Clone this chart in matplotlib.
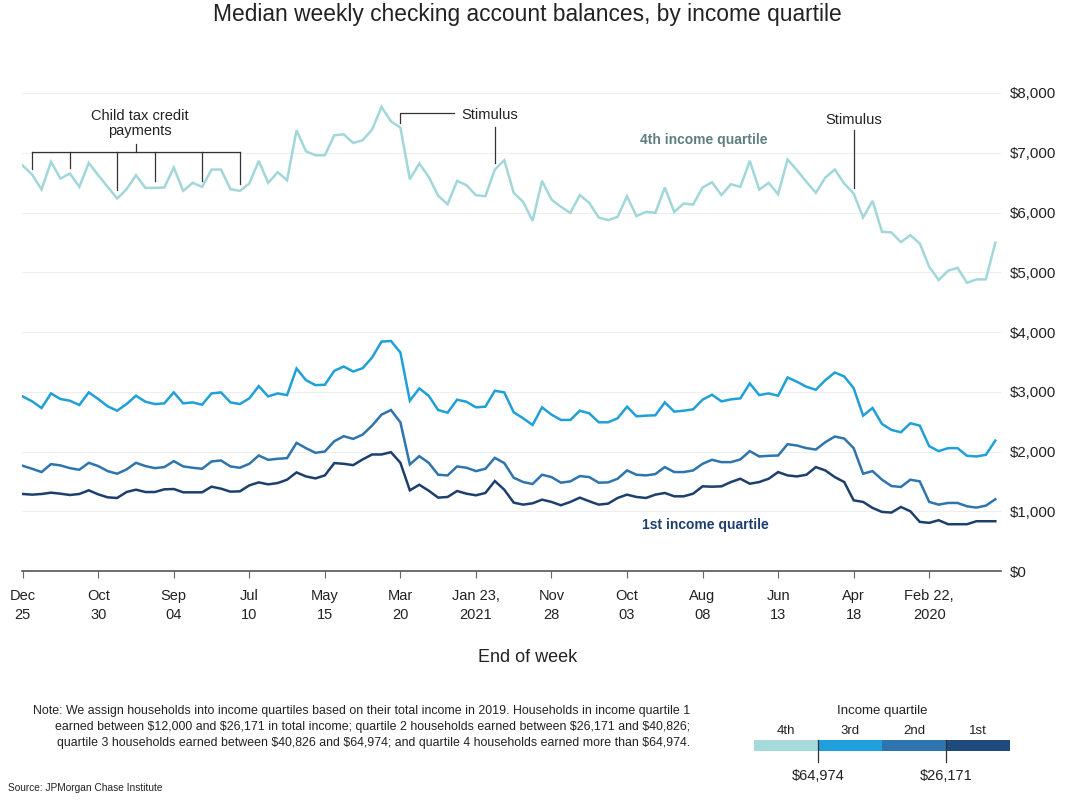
import numpy as np
import pandas as pd
import matplotlib
matplotlib.use("Agg")
import matplotlib.pyplot as plt

plt.rcParams['font.family'] = ['Liberation Sans', 'DejaVu Sans']

# week-ending dates, Saturdays, 104 weeks
weeks = pd.date_range('2020-01-04', periods=104, freq='7D')

q4_newest_first = [6786, 6635, 6384, 6847, 6568, 6652, 6429, 6830, 6624, 6429,
                   6234, 6390, 6624, 6412, 6412, 6418, 6752, 6362, 6496, 6429,
                   6719, 6719, 6390, 6362, 6485, 6864, 6496, 6674, 6540, 7376,
                   7025, 6958, 6958, 7292, 7309, 7164, 7209, 7387, 7766, 7526,
                   7421, 6557, 6819, 6596, 6279, 6139, 6529, 6457, 6290, 6273,
                   6719, 6875, 6329, 6178, 5861, 6529, 6217, 6095, 5994, 6290,
                   6162, 5916, 5872, 5927, 6273, 5939, 6011, 5994, 6418, 6011,
                   6150, 6134, 6418, 6507, 6290, 6474, 6429, 6864, 6384, 6496,
                   6306, 6886, 6708, 6513, 6329, 6585, 6719, 6485, 6318, 5916,
                   6195, 5677, 5666, 5504, 5621, 5482, 5092, 4869, 5025, 5075,
                   4824, 4880, 4880, 5493]
q3_newest_first = [2922, 2839, 2728, 2972, 2878, 2850, 2778, 2989, 2878, 2756,
                   2683, 2794, 2933, 2833, 2794, 2806, 2989, 2806, 2822, 2783,
                   2972, 2989, 2822, 2794, 2889, 3094, 2922, 2972, 2944, 3389,
                   3194, 3111, 3117, 3350, 3422, 3339, 3394, 3572, 3839, 3850,
                   3656, 2850, 3056, 2933, 2694, 2650, 2867, 2833, 2739, 2750,
                   3017, 2989, 2656, 2556, 2444, 2739, 2617, 2528, 2528, 2683,
                   2639, 2489, 2489, 2556, 2750, 2589, 2600, 2606, 2822, 2667,
                   2683, 2706, 2867, 2950, 2839, 2872, 2889, 3139, 2944, 2972,
                   2933, 3239, 3167, 3083, 3033, 3194, 3322, 3256, 3061, 2600,
                   2728, 2461, 2361, 2322, 2472, 2433, 2089, 2006, 2056, 2056,
                   1928, 1917, 1944, 2183]
q2_newest_first = [1761, 1711, 1656, 1789, 1767, 1722, 1694, 1811, 1756, 1672,
                   1628, 1700, 1811, 1756, 1722, 1739, 1839, 1750, 1728, 1711,
                   1833, 1850, 1750, 1728, 1794, 1933, 1861, 1878, 1889, 2144,
                   2056, 1978, 2000, 2172, 2256, 2211, 2283, 2433, 2617, 2694,
                   2489, 1783, 1922, 1811, 1611, 1600, 1750, 1728, 1672, 1711,
                   1894, 1806, 1561, 1489, 1456, 1611, 1572, 1478, 1500, 1589,
                   1572, 1478, 1483, 1544, 1683, 1611, 1600, 1622, 1739, 1656,
                   1656, 1683, 1794, 1861, 1822, 1822, 1867, 2006, 1917, 1928,
                   1933, 2122, 2100, 2056, 2033, 2156, 2250, 2217, 2056, 1628,
                   1672, 1528, 1422, 1406, 1528, 1500, 1156, 1111, 1139, 1139,
                   1083, 1061, 1094, 1200]
q1_newest_first = [1289, 1278, 1289, 1311, 1294, 1272, 1289, 1350, 1283, 1233,
                   1222, 1322, 1361, 1322, 1322, 1367, 1372, 1317, 1317, 1317,
                   1411, 1378, 1328, 1333, 1433, 1483, 1450, 1472, 1528, 1650,
                   1583, 1550, 1600, 1806, 1794, 1772, 1867, 1950, 1950, 1989,
                   1811, 1350, 1444, 1344, 1228, 1239, 1339, 1294, 1267, 1306,
                   1506, 1361, 1144, 1111, 1133, 1194, 1156, 1100, 1156, 1228,
                   1167, 1111, 1128, 1222, 1278, 1239, 1222, 1278, 1306, 1250,
                   1250, 1294, 1417, 1411, 1417, 1489, 1544, 1461, 1489, 1544,
                   1656, 1600, 1583, 1611, 1739, 1683, 1572, 1489, 1183, 1156,
                   1056, 989, 978, 1072, 1000, 822, 806, 850, 783, 783,
                   783, 833, 833, 833]

q4 = np.array(q4_newest_first)[::-1]
q3 = np.array(q3_newest_first)[::-1]
q2 = np.array(q2_newest_first)[::-1]
q1 = np.array(q1_newest_first)[::-1]

series = [q4, q3, q2, q1]
colors = ['#a2d7d9', '#20a0d8', '#2e74ad', '#1c3f6e']

tick_dates = pd.date_range('2020-02-22', periods=13, freq='56D')
tick_labels = ['Feb 22,\n2020', 'Apr\n18', 'Jun\n13', 'Aug\n08', 'Oct\n03', 'Nov\n28',
               'Jan 23,\n2021', 'Mar\n20', 'May\n15', 'Jul\n10', 'Sep\n04', 'Oct\n30', 'Dec\n25']
y_ticks = [0, 1000, 2000, 3000, 4000, 5000, 6000, 7000, 8000]
y_labels = ['$0', '$1,000', '$2,000', '$3,000', '$4,000', '$5,000', '$6,000', '$7,000', '$8,000']

ctc_dates = pd.to_datetime(['2021-12-18', '2021-11-20', '2021-10-16', '2021-09-18', '2021-08-14', '2021-07-17'])
ctc_bottoms = [6728, 6745, 6377, 6527, 6527, 6477]

legend_labels = ['4th', '3rd', '2nd', '1st']
legend_colors = ['#a6d9da', '#1f9fdb', '#2e75b0', '#1f4a7c']
cutoffs = ['$64,974', '$26,171']

W, H = 1070, 800
fig = plt.figure(figsize=(W / 100, H / 100), dpi=100)
ax = fig.add_axes([22 / W, 1 - 571 / H, (1000.7 - 22) / W, (571 - 93) / H])

for s, c in zip(series, colors):
    ax.plot(weeks, s, color=c, lw=1.8, solid_joinstyle='miter')

ax.set_xlim(pd.Timestamp('2021-12-25') + pd.Timedelta(days=0.5), pd.Timestamp('2019-12-31'))
ax.set_ylim(0, 8000)
ax.set_yticks(y_ticks)
ax.set_yticklabels(y_labels)
ax.yaxis.tick_right()
ax.tick_params(axis='y', length=0, pad=6.5, labelsize=10.8, labelcolor='#222222')
ax.set_xticks(tick_dates)
ax.set_xticklabels(tick_labels, linespacing=1.45)
ax.tick_params(axis='x', length=5, color='#666666', pad=8, labelsize=10.5, labelcolor='#222222')
ax.grid(axis='y', color='#eeeeee', lw=0.8)
ax.set_axisbelow(True)
for sp in ['top', 'left', 'right']:
    ax.spines[sp].set_visible(False)
ax.spines['bottom'].set_color('#555555')
ax.spines['bottom'].set_linewidth(1.2)

ann = dict(color='#333333', lw=0.9, clip_on=False)

# child tax credit bracket
ax.plot([ctc_dates[-1], ctc_dates[0]], [7010, 7010], **ann)
for d, b in zip(ctc_dates, ctc_bottoms):
    ax.plot([d, d], [7010, b], **ann)
mid = pd.Timestamp('2021-10-02')
ax.plot([mid, mid], [7010, 7146], **ann)
ax.text(pd.Timestamp('2021-09-29'), 7490, 'Child tax credit\npayments', ha='center', va='center',
        fontsize=10.5, color='#222222', linespacing=1.15)

# stimulus 2021
s1, s1b = pd.Timestamp('2021-03-20'), pd.Timestamp('2021-02-08')
ax.plot([s1, s1, s1b], [7503, 7665, 7665], **ann)
s2 = pd.Timestamp('2021-01-09')
ax.plot([s2, s2], [7436, 6828], **ann)
ax.text(pd.Timestamp('2021-01-13'), 7640, 'Stimulus', ha='center', va='center', fontsize=10.5, color='#222222')

# stimulus 2020
s3 = pd.Timestamp('2020-04-18')
ax.plot([s3, s3], [7381, 6410], **ann)
ax.text(s3, 7545, 'Stimulus', ha='center', va='center', fontsize=10.5, color='#222222')

ax.text(pd.Timestamp('2020-08-07'), 7213, '4th income quartile', ha='center', va='center',
        fontsize=10, fontweight='bold', color='#5e7f80')
ax.text(pd.Timestamp('2020-08-06'), 770, '1st income quartile', ha='center', va='center',
        fontsize=10, fontweight='bold', color='#1d3f6e')

fig.text(527 / W, 1 - 15 / H, 'Median weekly checking account balances, by income quartile',
         ha='center', va='center', fontsize=16.4, color='#222222')
fig.text(528 / W, 1 - 657 / H, 'End of week', ha='center', va='center', fontsize=13, color='#222222')

note = ('Note: We assign households into income quartiles based on their total income in 2019. Households in income quartile 1\n'
        r'earned between \$12,000 and \$26,171 in total income; quartile 2 households earned between \$26,171 and \$40,826;' '\n'
        r'quartile 3 households earned between \$40,826 and \$64,974; and quartile 4 households earned more than \$64,974.')
fig.text(690 / W, 1 - 727 / H, note, ha='right', va='center', multialignment='right',
         fontsize=8.9, color='#222222', linespacing=1.45)
fig.text(163 / W, 1 - 788 / H, 'Source: JPMorgan Chase Institute', ha='right', va='center',
         fontsize=7.3, color='#222222')

# income quartile key
lg = fig.add_axes([754 / W, 1 - 785 / H, 256 / W, 85 / H])
lg.set_xlim(0, 4)
lg.set_ylim(85, 0)
lg.axis('off')
lg.barh([45.5] * 4, [1] * 4, left=range(4), height=11, color=legend_colors)
for k, lab in enumerate(legend_labels):
    lg.text(k + 0.5, 31, lab, ha='center', va='center', fontsize=9.5, color='#222222')
for k, lab in zip([1, 3], cutoffs):
    lg.plot([k, k], [40, 62], color='#333333', lw=0.9)
    lg.text(k, 76, lab, ha='center', va='center', fontsize=10.5, color='#222222')
lg.text(2, 11, 'Income quartile', ha='center', va='center', fontsize=9.5, color='#222222')

fig.savefig('out.png', dpi=100)
